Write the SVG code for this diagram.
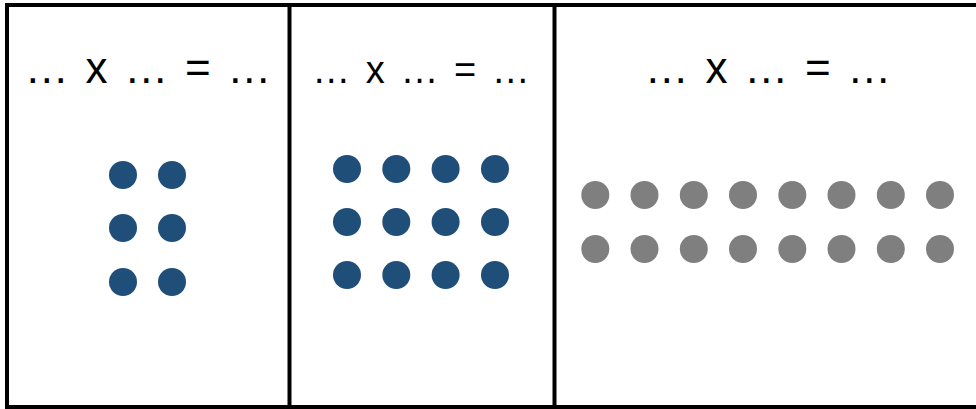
<svg xmlns="http://www.w3.org/2000/svg" width="976" height="409" viewBox="0 0 976 409">
<style>
.frame{fill:none;stroke:#000;stroke-width:4}
.eq{font-family:"Liberation Sans",Arial,sans-serif;fill:#000;text-anchor:middle;word-spacing:4.5px}
.b{fill:#1F4E79}
.g{fill:#7F7F7F}
</style>
<rect width="976" height="409" fill="#fff"/>
<g id="frame">
<rect class="frame" x="7" y="5" width="980" height="402"/>
<line class="frame" x1="289.5" y1="5" x2="289.5" y2="407"/>
<line class="frame" x1="554.5" y1="5" x2="554.5" y2="407"/>
</g>
<g id="panel1">
<text class="eq" x="148" y="83" font-size="44">… x … = …</text>
<circle class="b" cx="123" cy="175" r="14"/><circle class="b" cx="172" cy="175" r="14"/>
<circle class="b" cx="123" cy="228" r="14"/><circle class="b" cx="172" cy="228" r="14"/>
<circle class="b" cx="123" cy="282" r="14"/><circle class="b" cx="172" cy="282" r="14"/>
</g>
<g id="panel2">
<text class="eq" x="421" y="83" font-size="38" style="word-spacing:5px">… x … = …</text>
<circle class="b" cx="347" cy="169" r="14"/><circle class="b" cx="396.3" cy="169" r="14"/><circle class="b" cx="445.6" cy="169" r="14"/><circle class="b" cx="495" cy="169" r="14"/>
<circle class="b" cx="347" cy="222" r="14"/><circle class="b" cx="396.3" cy="222" r="14"/><circle class="b" cx="445.6" cy="222" r="14"/><circle class="b" cx="495" cy="222" r="14"/>
<circle class="b" cx="347" cy="275" r="14"/><circle class="b" cx="396.3" cy="275" r="14"/><circle class="b" cx="445.6" cy="275" r="14"/><circle class="b" cx="495" cy="275" r="14"/>
</g>
<g id="panel3">
<text class="eq" x="768" y="83" font-size="44">… x … = …</text>
<g class="g">
<circle cx="595.3" cy="195" r="14"/><circle cx="644.5" cy="195" r="14"/><circle cx="693.8" cy="195" r="14"/><circle cx="743" cy="195" r="14"/><circle cx="792.3" cy="195" r="14"/><circle cx="841.5" cy="195" r="14"/><circle cx="890.8" cy="195" r="14"/><circle cx="940" cy="195" r="14"/>
<circle cx="595.3" cy="249" r="14"/><circle cx="644.5" cy="249" r="14"/><circle cx="693.8" cy="249" r="14"/><circle cx="743" cy="249" r="14"/><circle cx="792.3" cy="249" r="14"/><circle cx="841.5" cy="249" r="14"/><circle cx="890.8" cy="249" r="14"/><circle cx="940" cy="249" r="14"/>
</g>
</g>
</svg>
